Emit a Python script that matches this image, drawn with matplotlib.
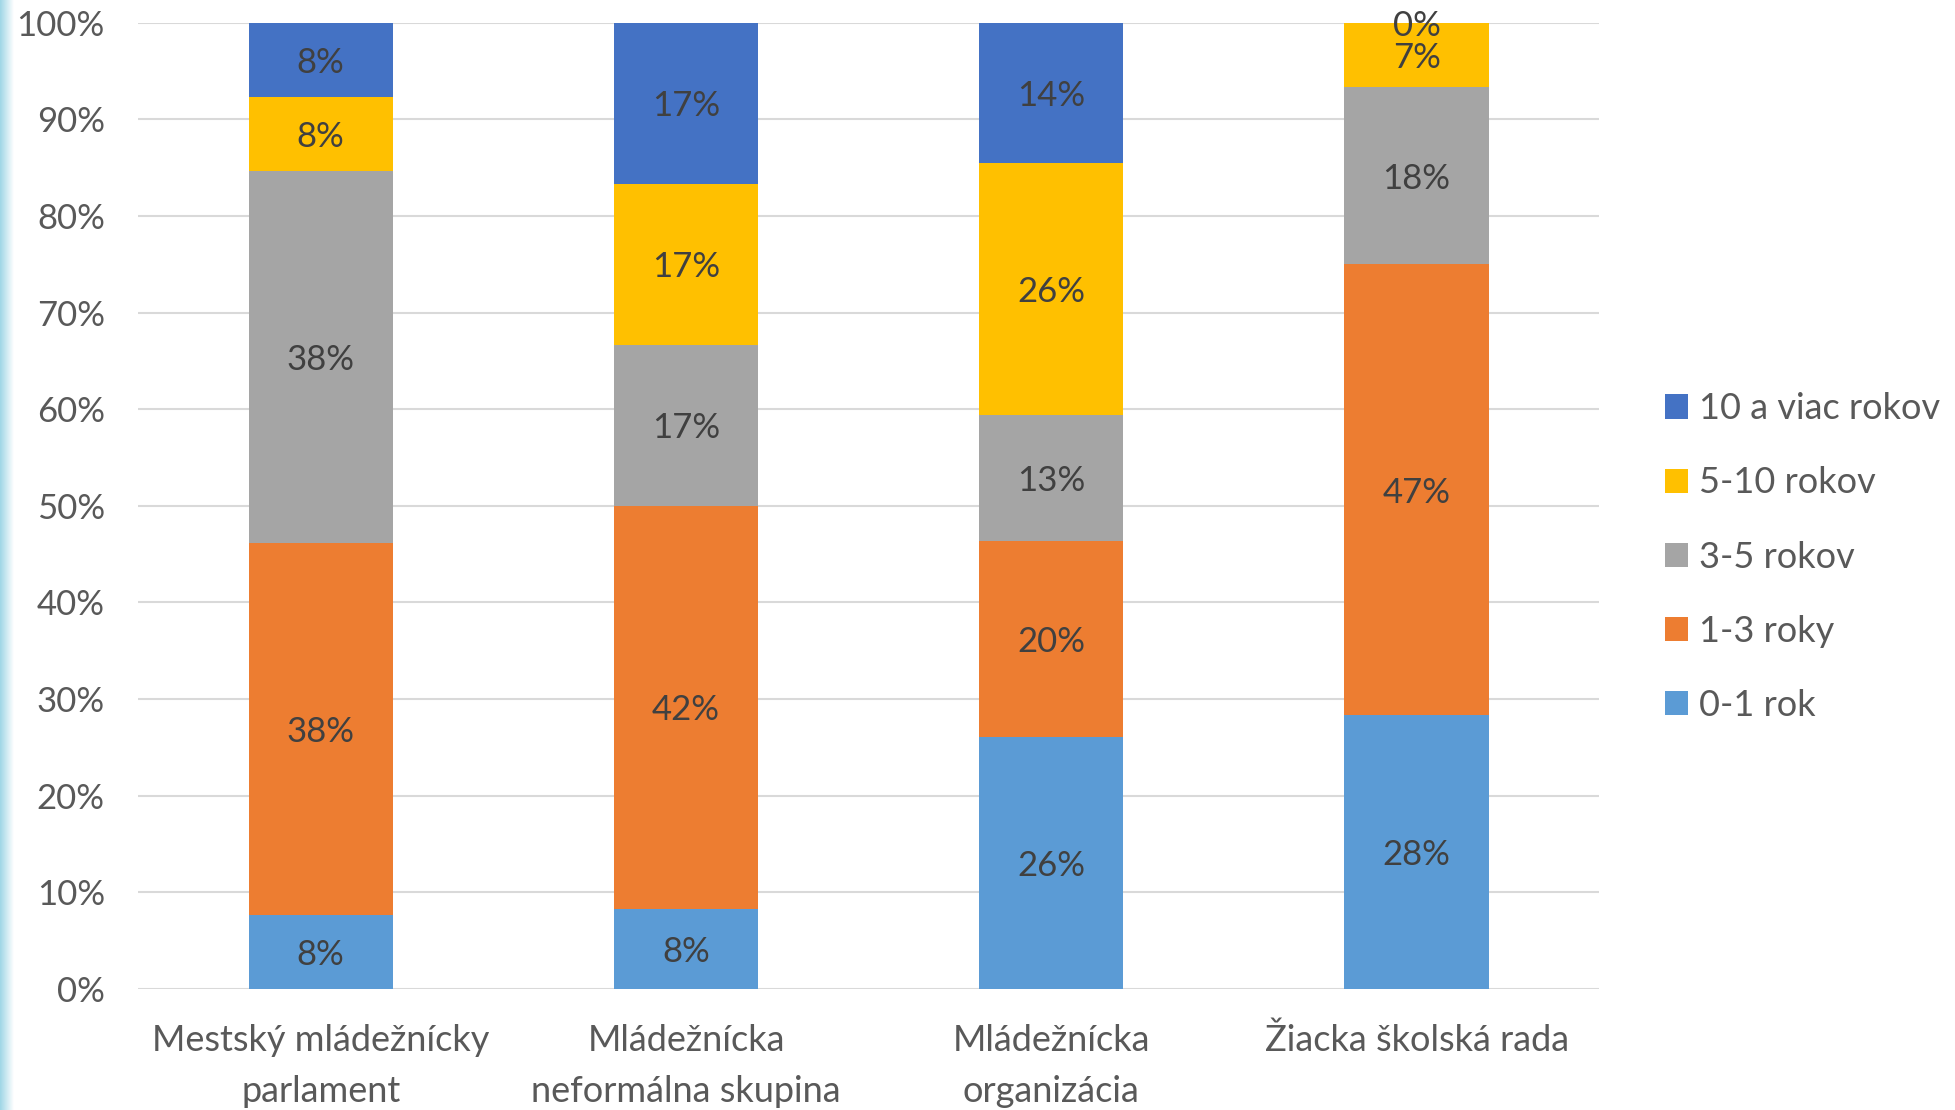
import numpy as np
import matplotlib.pyplot as plt
from matplotlib.ticker import PercentFormatter

# %%
########## DATA ##########
categories = ['Mestský mládežnícky\nparlament', 'Mládežnícka\nneformálna skupina',
              'Mládežnícka\norganizácia', 'Žiacka školská rada']
series = ['0-1 rok', '1-3 roky', '3-5 rokov', '5-10 rokov', '10 a viac rokov']
colors = ['#5B9BD5', '#ED7D31', '#A5A5A5', '#FFC000', '#4472C4']

# podiely (v %) pre kazdu kategoriu
val_0_1 = [7.69, 8.33, 26.09, 28.33]
val_1_3 = [38.46, 41.67, 20.29, 46.67]
val_3_5 = [38.46, 16.67, 13.04, 18.33]
val_5_10 = [7.69, 16.67, 26.09, 6.67]
val_10 = [7.69, 16.67, 14.49, 0.0]
values = [val_0_1, val_1_3, val_3_5, val_5_10, val_10]

# %%
########## GRAF ##########
plt.rcParams['font.family'] = ['Lato', 'DejaVu Sans']
text_col = '#595959'
fs = 25

fig = plt.figure(figsize=(19.56, 11.1), dpi=100)
ax = fig.add_axes([0.0706, 0.109, 0.747, 0.8706])

x = np.arange(len(categories))
bottom = np.zeros(len(categories))
handles = []
for name, vals, col in zip(series, values, colors):
    vals = np.array(vals)
    bars = ax.bar(x, vals, 0.395, bottom=bottom, color=col, label=name, zorder=3)
    handles.append(bars)
    for xi, b, v in zip(x, bottom, vals):
        ax.text(xi, b + v / 2, f'{v:.0f}%', ha='center', va='center_baseline',
                fontsize=fs, color='#404040', zorder=4)
    bottom += vals

ax.set_xlim(-0.5, 3.5)
ax.set_ylim(0, 100)
ax.set_yticks(np.arange(0, 101, 10))
ax.yaxis.set_major_formatter(PercentFormatter(decimals=0))
ax.set_xticks(x)
ax.set_xticklabels(categories, linespacing=1.68)
ax.tick_params(axis='y', length=0, pad=24, labelsize=fs, labelcolor=text_col)
ax.tick_params(axis='x', length=0, pad=25, labelsize=26, labelcolor=text_col)
ax.grid(axis='y', color='#D9D9D9', linewidth=1.5, zorder=0)
for s in ax.spines.values():
    s.set_visible(False)

leg = ax.legend(handles[::-1], series[::-1], loc='center left',
                bbox_to_anchor=(1.035, 0.447), frameon=False, fontsize=26,
                handlelength=0.65, handleheight=0.65, handletextpad=0.3,
                labelspacing=1.14, borderaxespad=0)
for t in leg.get_texts():
    t.set_color(text_col)

# modry okraj vlavo (screenshot)
edge = fig.add_axes([0, 0, 0.007, 1])
edge.imshow(np.linspace(0, 1, 50)[None, :], aspect='auto', cmap=plt.matplotlib.colors.LinearSegmentedColormap.from_list('e', ['#9fd6e6', '#ffffff']))
edge.axis('off')

fig.savefig('out.png', dpi=100)
